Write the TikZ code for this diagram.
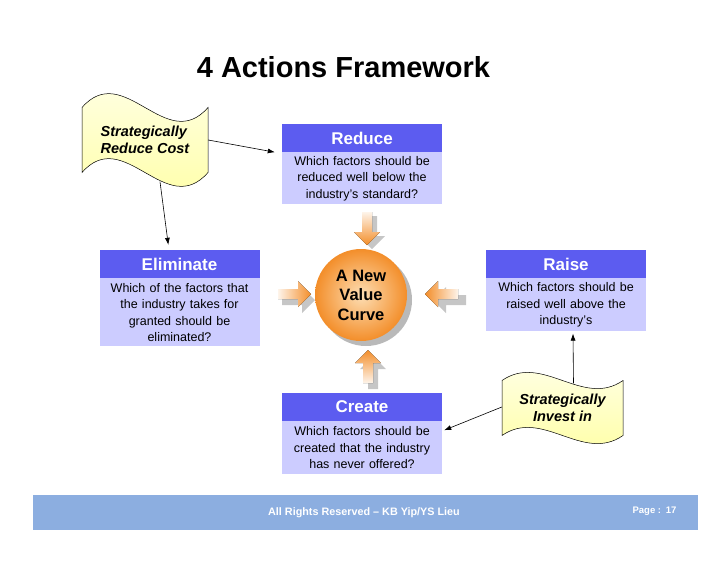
\documentclass[tikz,border=0pt]{standalone}
\usepackage{fontspec}
\setmainfont{Liberation Sans}
\usetikzlibrary{arrows.meta,positioning,shadows,backgrounds}
\definecolor{fwHead}{RGB}{92,92,240}
\definecolor{fwBody}{RGB}{204,204,255}
\definecolor{fwFooter}{RGB}{140,174,224}
\definecolor{vcOrange}{RGB}{243,142,42}
\definecolor{vcLight}{RGB}{253,222,180}
\definecolor{flagTop}{RGB}{255,255,236}
\definecolor{flagBottom}{RGB}{255,255,160}

\newcommand{\flagshape}[4]{%
  \draw[flagline] ([shift={(-#2,-#3)}]#1.center)
    .. controls ([shift={(-#2/3,-#3-#4)}]#1.center) and ([shift={(#2/3,-#3+#4)}]#1.center) .. ([shift={(#2,-#3)}]#1.center)
    -- ([shift={(#2,#3)}]#1.center)
    .. controls ([shift={(#2/3,#3+#4)}]#1.center) and ([shift={(-#2/3,#3-#4)}]#1.center) .. ([shift={(-#2,#3)}]#1.center)
    -- cycle;}

\begin{document}
\begin{tikzpicture}[
  x=1pt, y=-1pt,
  headbox/.style={fill=fwHead, text=white, font=\fontsize{17}{20}\selectfont\bfseries, minimum width=160pt, minimum height=28pt, inner sep=0pt},
  bodybox/.style={fill=fwBody, font=\fontsize{12.5}{16.5}\selectfont, text width=158pt, inner xsep=1pt, inner ysep=3pt, align=center},
  flagtext/.style={font=\fontsize{14.5}{17}\selectfont\bfseries\itshape, inner sep=0pt},
  flagline/.style={draw=black, line width=0.5pt, top color=flagTop, bottom color=flagBottom},
  link/.style={-{Latex[length=7pt,width=5pt]}, line width=0.6pt},
  arrshade/.style={fill=gray!45}
]
\useasboundingbox (0,0) rectangle (728,563);
\node[anchor=base, font=\fontsize{29}{34}\selectfont\bfseries] (title) at (343.5,77) {4 Actions Framework};

\node[headbox] (reduceHead) at (362,138) {Reduce};
\node[bodybox, minimum height=52pt, below=0pt of reduceHead] (reduceBody) {Which factors should be\\reduced well below the\\industry's standard?};
\node[headbox] (elimHead) at (179.5,264) {Eliminate};
\node[bodybox, minimum height=68pt, below=0pt of elimHead] (elimBody) {Which of the factors that\\the industry takes for\\granted should be\\eliminated?};
\node[headbox] (raiseHead) at (566,264) {Raise};
\node[bodybox, minimum height=53pt, below=0pt of raiseHead] (raiseBody) {Which factors should be\\raised well above the\\industry's};
\node[headbox] (createHead) at (362,407) {Create};
\node[bodybox, minimum height=53pt, below=0pt of createHead] (createBody) {Which factors should be\\created that the industry\\has never offered?};

\node[circle, minimum size=92pt, inner color=vcLight, outer color=vcOrange, drop shadow={shadow xshift=5pt, shadow yshift=-5pt, fill=gray!55, opacity=1}, align=center, font=\fontsize{16.5}{19.5}\selectfont\bfseries] (valueCurve) at (361,295) {A New\\Value\\Curve};

\fill[arrshade, shift={(372,216)}] (-5,0) -- (-5,20) -- (-13,20) -- (0,33) -- (13,20) -- (5,20) -- (5,0) -- cycle;
\fill[shift={(367,212)}, top color=vcOrange!10, bottom color=vcOrange] (-5,0) -- (-5,20) -- (-13,20) -- (0,33) -- (13,20) -- (5,20) -- (5,0) -- cycle;
\fill[arrshade, shift={(373,389)}] (-5,0) -- (-5,-20) -- (-13,-20) -- (0,-33) -- (13,-20) -- (5,-20) -- (5,0) -- cycle;
\fill[shift={(368,383)}, top color=vcOrange, bottom color=vcOrange!10] (-5,0) -- (-5,-20) -- (-13,-20) -- (0,-33) -- (13,-20) -- (5,-20) -- (5,0) -- cycle;
\fill[arrshade, shift={(282,300)}] (0,-5) -- (20,-5) -- (20,-13) -- (33,0) -- (20,13) -- (20,5) -- (0,5) -- cycle;
\fill[shift={(278,294)}, left color=vcOrange!10, right color=vcOrange] (0,-5) -- (20,-5) -- (20,-13) -- (33,0) -- (20,13) -- (20,5) -- (0,5) -- cycle;
\fill[arrshade, shift={(466,300)}] (0,-5) -- (-20,-5) -- (-20,-13) -- (-33,0) -- (-20,13) -- (-20,5) -- (0,5) -- cycle;
\fill[shift={(458,294)}, left color=vcOrange, right color=vcOrange!10] (0,-5) -- (-20,-5) -- (-20,-13) -- (-33,0) -- (-20,13) -- (-20,5) -- (0,5) -- cycle;

\node[flagtext, align=left, minimum width=126pt, minimum height=65pt] (reduceFlag) at (145,140) {Strategically\\Reduce Cost};
\node[flagtext, align=center, minimum width=121pt, minimum height=55pt] (investFlag) at (562.5,408) {Strategically\\Invest in};
\begin{scope}[on background layer]
  \flagshape{reduceFlag}{63}{32.5}{48}
  \flagshape{investFlag}{60.5}{27.5}{28}
\end{scope}

\draw[link] (reduceFlag.east) -- ([xshift=-7pt]reduceBody.north west);
\draw[link] ([xshift=15pt,yshift=-9pt]reduceFlag.south) -- ([xshift=69pt,yshift=5pt]elimHead.north west);
\draw[link] ([yshift=1pt]investFlag.west) -- ([xshift=2pt,yshift=-9pt]createBody.north east);
\draw[link] ([xshift=11pt,yshift=-3pt]investFlag.north) -- ([xshift=7pt,yshift=-2pt]raiseBody.south);

\node[fill=fwFooter, minimum width=665pt, minimum height=35pt, inner sep=0pt] (footer) at (365.5,512.5) {};
\node[text=white, font=\fontsize{10.8}{13}\selectfont\bfseries] (rights) at (364,513) {All Rights Reserved – KB Yip/YS Lieu};
\node[text=white, font=\fontsize{9.5}{11}\selectfont\bfseries] (pageNo) at (654.5,511) {Page :\enspace 17};
\end{tikzpicture}
\end{document}
